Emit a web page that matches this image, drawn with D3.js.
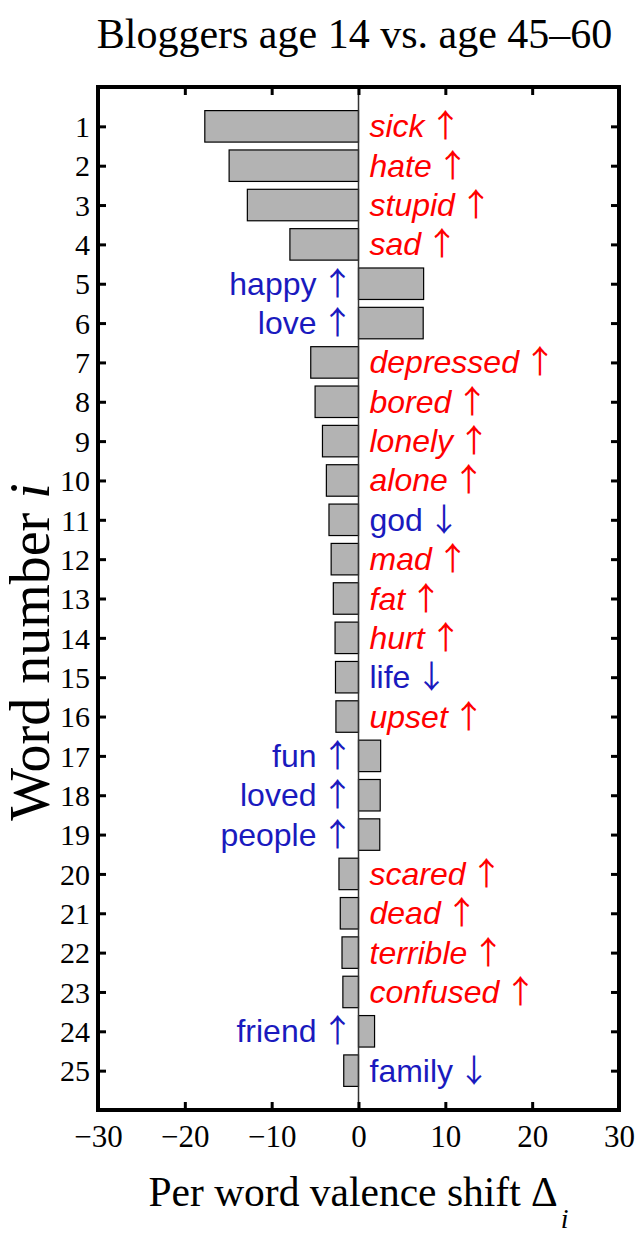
<!DOCTYPE html>
<html>
<head>
<meta charset="utf-8">
<script src="https://cdn.jsdelivr.net/npm/d3@7/dist/d3.min.js"></script>
<style>
  html, body { margin: 0; padding: 0; background: #fff; }
  svg { display: block; }
</style>
</head>
<body>
<svg id="chart" width="644" height="1240"></svg>
<script>
// ---- data ----
const words = ["sick","hate","stupid","sad","happy","love","depressed","bored","lonely","alone",
  "god","mad","fat","hurt","life","upset","fun","loved","people","scared",
  "dead","terrible","confused","friend","family"];
const shifts = [-17.7,-14.9,-12.8,-7.9,7.5,7.45,-5.5,-5.0,-4.15,-3.7,
  -3.4,-3.15,-2.9,-2.7,-2.65,-2.6,2.55,2.5,2.45,-2.25,
  -2.1,-1.9,-1.8,1.85,-1.7];
// word valence relative to average: "neg" (red italic) or "pos" (blue)
const wordTypes = ["neg","neg","neg","neg","pos","pos","neg","neg","neg","neg",
  "pos","neg","neg","neg","pos","neg","pos","pos","pos","neg",
  "neg","neg","neg","pos","pos"];
// frequency change direction
const directions = ["up","up","up","up","up","up","up","up","up","up",
  "down","up","up","up","down","up","up","up","up","up",
  "up","up","up","up","down"];
const xTicks = [-30,-20,-10,0,10,20,30];
const yTicks = d3.range(1, 26);
const title = "Bloggers age 14 vs. age 45\u201360";
const xLabel = "Per word valence shift \u0394";
const yLabel = "Word number ";

// ---- layout ----
const L = 98, R = 619, T = 87, B = 1110;
const svg = d3.select("#chart");
const x = d3.scaleLinear().domain([-30, 30]).range([L, R]);
const y = d3.scaleLinear().domain([0, 26]).range([T, B]);
const rowH = y(1) - y(0);
const barH = rowH * 0.8;
const serif = "'Liberation Serif','Times New Roman',serif";
const sans = "'Liberation Sans',Arial,Helvetica,sans-serif";
const arrowFont = "'Noto Sans CJK JP','Noto Sans CJK SC',sans-serif";
const red = "#ff0000", blue = "#1a1abe";

// bars
svg.append("g").selectAll("rect").data(shifts).join("rect")
  .attr("x", d => x(Math.min(0, d)))
  .attr("width", d => Math.abs(x(d) - x(0)))
  .attr("y", (d, i) => y(i + 1) - barH / 2)
  .attr("height", barH)
  .attr("fill", "#b3b3b3")
  .attr("stroke", "#000")
  .attr("stroke-width", 1.2);

// zero line
svg.append("line")
  .attr("x1", x(0)).attr("x2", x(0)).attr("y1", T).attr("y2", B)
  .attr("stroke", "#333").attr("stroke-width", 1.5);

// word labels
const lab = svg.append("g").selectAll("text").data(words).join("text")
  .attr("x", (w, i) => shifts[i] < 0 ? x(0) + 11 : x(0) - 5)
  .attr("y", (w, i) => y(i + 1) + 11)
  .attr("text-anchor", (w, i) => shifts[i] < 0 ? "start" : "end")
  .attr("font-family", sans)
  .attr("font-size", 32)
  .attr("fill", (w, i) => wordTypes[i] === "neg" ? red : blue);
lab.append("tspan")
  .attr("font-style", (w, i) => wordTypes[i] === "neg" ? "italic" : "normal")
  .text(w => w);
lab.append("tspan")
  .attr("font-style", "normal")
  .attr("font-family", arrowFont)
  .attr("font-size", 32)
  .attr("dx", 5)
  .text((w, i) => directions[i] === "up" ? "\u2191" : "\u2193");

// axes (ticks inward)
function styleAxis(g, fs) {
  g.select(".domain").remove();
  g.selectAll(".tick line").attr("stroke", "#000").attr("stroke-width", 3);
  g.selectAll(".tick text").attr("font-family", serif).attr("font-size", fs).attr("fill", "#000");
}
const fmt = d => (d < 0 ? "\u2212" : "") + Math.abs(d);
svg.append("g").attr("transform", `translate(0,${B})`)
  .call(d3.axisBottom(x).tickValues(xTicks).tickFormat(fmt).tickSize(-8).tickPadding(15))
  .call(g => styleAxis(g, 31));
svg.append("g").attr("transform", `translate(0,${T})`)
  .call(d3.axisTop(x).tickValues(xTicks.slice(1, -1)).tickFormat("").tickSize(-8))
  .call(g => styleAxis(g, 31));
svg.append("g").attr("transform", `translate(${L},0)`)
  .call(d3.axisLeft(y).tickValues(yTicks).tickSize(-8).tickPadding(8))
  .call(g => styleAxis(g, 30))
  .call(g => g.selectAll(".tick text").attr("dy", "0.34em"));
svg.append("g").attr("transform", `translate(${R},0)`)
  .call(d3.axisRight(y).tickValues(yTicks).tickFormat("").tickSize(-8))
  .call(g => styleAxis(g, 30));

// frame
svg.append("rect")
  .attr("x", L).attr("y", T).attr("width", R - L).attr("height", B - T)
  .attr("fill", "none").attr("stroke", "#000").attr("stroke-width", 4);

// title
svg.append("text")
  .attr("x", (L + R) / 2 - 4).attr("y", 48)
  .attr("text-anchor", "middle")
  .attr("font-family", serif).attr("font-size", 42)
  .text(title);

// x label
const xl = svg.append("text")
  .attr("x", (L + R) / 2).attr("y", 1206)
  .attr("text-anchor", "middle")
  .attr("font-family", serif).attr("font-size", 41.5);
xl.append("tspan").text(xLabel);
xl.append("tspan").attr("font-style", "italic").attr("font-size", 28)
  .attr("dx", 3).attr("dy", 22).text("i");

// y label
const yl = svg.append("text")
  .attr("transform", `translate(49,652) rotate(-90)`)
  .attr("text-anchor", "middle")
  .attr("font-family", serif).attr("font-size", 56);
yl.append("tspan").text(yLabel);
yl.append("tspan").attr("font-style", "italic").text("i");
</script>
</body>
</html>
